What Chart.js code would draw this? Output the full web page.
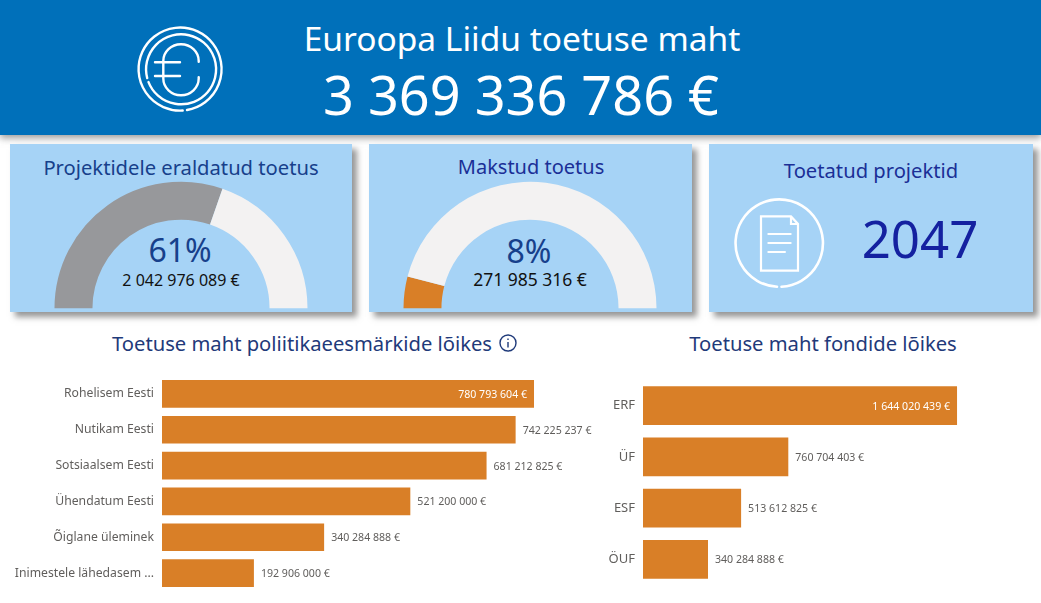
<!DOCTYPE html>
<html lang="et">
<head>
<meta charset="utf-8">
<title>Euroopa Liidu toetuse maht</title>
<script src="https://cdn.jsdelivr.net/npm/chart.js@4/dist/chart.umd.min.js"></script>
<style>
    html, body { margin: 0; padding: 0; background: #fff; }
    body { position: relative; width: 1041px; height: 603px; overflow: hidden; font-family: "Noto Sans", sans-serif; }
    .header { position: absolute; left: 0; top: 0; width: 1041px; height: 135px; background: #0070ba; box-shadow: 0 3px 7px rgba(90,90,90,.6); }
    .card { position: absolute; top: 144px; height: 168px; background: #a6d3f6; box-shadow: 5px 5px 6px rgba(80,80,80,.6); }
    .txt { position: absolute; white-space: nowrap; transform: translate(-50%, -50%); line-height: 1; }
    canvas { position: absolute; }
    svg { position: absolute; }
</style>
</head>
<body>
<div class="header"></div>
<div class="card" style="left:10px;width:342px"></div>
<div class="card" style="left:369px;width:323px"></div>
<div class="card" style="left:709px;width:324px"></div>

<svg style="left:131px;top:20px" width="100" height="100" viewBox="0 0 100 100" fill="none" stroke="#fff" stroke-width="2.4" stroke-linecap="round">
    <path d="M56 90 A41.5 41.5 0 1 0 51.7 90.5"/>
    <path d="M16.2 58.1 A35 35 0 1 1 17.5 62.1"/>
    <path d="M67.7 41.7 V41 A17.7 16.7 0 0 0 32.3 41 V58.5 A17.7 16.7 0 0 0 67.7 58.5 V57.3"/>
    <path d="M24 42.3 H49 M24 56 H49"/>
</svg>

<svg style="left:729px;top:193px" width="100" height="100" viewBox="0 0 100 100" fill="none" stroke="#fff" stroke-linecap="round">
    <path stroke-width="2.6" d="M48 93.7 A43.7 43.7 0 1 1 52.5 93.7"/>
    <path stroke-width="2.2" d="M32 23.4 H62 L69 31 V77.7 H32 Z M62 23.4 V31 H69"/>
    <path stroke-width="2" d="M39.3 41 H61.7 M39.3 50 H61.7 M39.3 59 H56"/>
</svg>

<div class="txt" style="left:522px;top:39px;font-size:33.5px;color:#fff">Euroopa Liidu toetuse maht</div>
<div class="txt" style="left:521px;top:94px;font-size:54px;color:#fff">3 369 336 786 €</div>

<div class="txt" style="left:181px;top:167px;font-size:20.2px;color:#17408b">Projektidele eraldatud toetus</div>
<div class="txt" style="left:531px;top:167px;font-size:20px;color:#1b2f96">Makstud toetus</div>
<div class="txt" style="left:871px;top:170px;font-size:20.2px;color:#1b2f96">Toetatud projektid</div>
<div class="txt" style="left:180px;top:250px;font-size:32px;color:#17408b">61%</div>
<div class="txt" style="left:181px;top:280px;font-size:16px;color:#111">2 042 976 089 €</div>
<div class="txt" style="left:529px;top:251px;font-size:32px;color:#17408b">8%</div>
<div class="txt" style="left:530px;top:280px;font-size:17.5px;color:#111">271 985 316 €</div>
<div class="txt" style="left:920px;top:238px;font-size:51px;color:#1421a0">2047</div>

<div class="txt" style="left:302px;top:343px;font-size:20.2px;color:#1f3a7a">Toetuse maht poliitikaeesmärkide lõikes</div>
<svg style="left:498px;top:333px" width="20" height="20" viewBox="0 0 20 20" fill="none" stroke="#1f3a7a" stroke-width="1.4">
    <circle cx="10" cy="10" r="8"/>
    <path d="M10 9 V14.5 M10 5.5 V7"/>
</svg>
<div class="txt" style="left:823px;top:343px;font-size:20.2px;color:#1f3a7a">Toetuse maht fondide lõikes</div>

<canvas id="gauge-allocated" width="260" height="130" style="left:51px;top:180px"></canvas>
<canvas id="gauge-paid" width="260" height="130" style="left:400px;top:180px"></canvas>
<canvas id="policy-chart" width="610" height="215" style="left:0;top:376px"></canvas>
<canvas id="fund-chart" width="430" height="205" style="left:600px;top:380px"></canvas>

<script>
const totalSupport = 3369336786;
const allocatedSupport = 2042976089;
const paidSupport = 271985316;

const policyCategories = ['Rohelisem Eesti', 'Nutikam Eesti', 'Sotsiaalsem Eesti', 'Ühendatum Eesti', 'Õiglane üleminek', 'Inimestele lähedasem ...'];
const policyValues = [780793604, 742225237, 681212825, 521200000, 340284888, 192906000];

const fundCategories = ['ERF', 'ÜF', 'ESF', 'ÖUF'];
const fundValues = [1644020439, 760704403, 513612825, 340284888];

const ORANGE = '#d97f27';
const GREY = '#97989b';
const LIGHT = '#f3f2f2';
const FONT = '"Noto Sans", sans-serif';

Chart.defaults.animation = false;
Chart.defaults.responsive = false;
Chart.defaults.plugins.legend.display = false;
Chart.defaults.plugins.tooltip.enabled = false;

function formatEuro(value) {
    return String(value).replace(/\B(?=(\d{3})+$)/g, ' ') + ' €';
}

// Half doughnut with the paid/allocated part first
function makeGauge(id, value, color) {
    new Chart(document.getElementById(id), {
        type: 'doughnut',
        data: {
            datasets: [{
                data: [value, totalSupport - value],
                backgroundColor: [color, LIGHT],
                borderWidth: 0
            }]
        },
        options: {
            rotation: -90,
            circumference: 180,
            radius: 126.5,
            cutout: '70%'
        }
    });
}

// Value labels: inside the longest bar, after the end of the others
const barValueLabels = {
    id: 'barValueLabels',
    afterDatasetsDraw(chart, args, opts) {
        const ctx = chart.ctx;
        const values = chart.data.datasets[0].data;
        const top = Math.max(...values);
        ctx.save();
        ctx.font = opts.size + 'px ' + FONT;
        ctx.textBaseline = 'middle';
        chart.getDatasetMeta(0).data.forEach((bar, i) => {
            const inside = values[i] === top;
            ctx.fillStyle = inside ? '#ffffff' : '#605e5c';
            ctx.textAlign = inside ? 'right' : 'left';
            ctx.fillText(formatEuro(values[i]), bar.x + (inside ? -7 : 7), bar.y + 1);
        });
        ctx.restore();
    }
};

function makeBars(id, categories, values, axisMax, axisWidth, barPct, fontSize, labelSize) {
    new Chart(document.getElementById(id), {
        type: 'bar',
        data: {
            labels: categories,
            datasets: [{
                data: values,
                backgroundColor: ORANGE,
                barPercentage: barPct,
                categoryPercentage: 1
            }]
        },
        options: {
            indexAxis: 'y',
            layout: { padding: 0 },
            plugins: { barValueLabels: { size: labelSize } },
            scales: {
                x: { display: false, min: 0, max: axisMax },
                y: {
                    grid: { display: false },
                    border: { display: false },
                    ticks: { color: '#605e5c', font: { family: FONT, size: fontSize }, padding: 0, autoSkip: false },
                    afterFit(scale) {
                        // keep the bars on the full canvas height
                        scale.width = axisWidth;
                        scale.paddingTop = 0;
                        scale.paddingBottom = 0;
                    }
                }
            }
        },
        plugins: [barValueLabels]
    });
}

makeGauge('gauge-allocated', allocatedSupport, GREY);
makeGauge('gauge-paid', paidSupport, ORANGE);
makeBars('policy-chart', policyCategories, policyValues, 940300000, 162, 0.77, 12.2, 10.6);
makeBars('fund-chart', fundCategories, fundValues, 2026000000, 43, 0.76, 13, 10.6);
</script>
</body>
</html>
